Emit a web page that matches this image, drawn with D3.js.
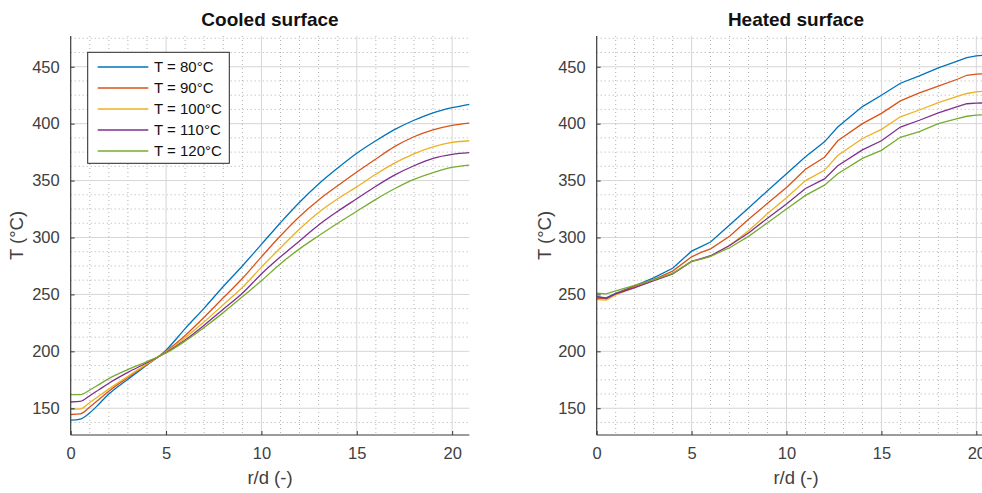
<!DOCTYPE html>
<html>
<head>
<meta charset="utf-8">
<script src="https://cdn.jsdelivr.net/npm/d3@7"></script>
<style>
  html, body { margin: 0; padding: 0; background: #fff; overflow: hidden; }
  svg { display: block; }
  text { font-family: "Liberation Sans", Arial, Helvetica, sans-serif; }
</style>
</head>
<body>
<svg id="fig" width="982" height="493"></svg>
<script>
// Radial temperature profiles along the surface, r/d on x, T in °C on y
const seriesNames = ["T = 80°C", "T = 90°C", "T = 100°C", "T = 110°C", "T = 120°C"];
const seriesColors = ["#0072BD", "#D95319", "#EDB120", "#7E2F8E", "#77AC30"];

// Cooled surface
const cooledR = [0, 0.5, 1, 1.5, 2, 3, 4, 5, 6, 7, 8, 9, 10, 11, 12, 13, 14, 15, 16, 17, 18, 19, 20, 20.9];
const cooled80  = [139.5, 140.5, 146, 154, 162.5, 175.5, 188, 201, 220, 238, 257, 275, 294, 313, 331, 347, 361, 374, 385, 395, 403, 409.5, 414, 417];
const cooled90  = [144.5, 145, 151, 158, 165, 177, 188.5, 200, 214, 230, 247, 264, 283, 301.5, 318.5, 333, 345.5, 357.5, 369, 380, 388.5, 394.5, 398.5, 400.5];
const cooled100 = [149, 149.5, 155, 161, 167, 178, 189, 199.5, 212, 226, 241, 256, 274, 291, 307.5, 322, 334, 344.5, 355.5, 365.5, 373.5, 379.5, 383.5, 385];
const cooled110 = [155.5, 156, 161, 166.5, 172, 181.5, 190, 199, 210, 223, 237, 251, 268, 283, 297, 311, 323, 334, 345, 355, 363, 369.5, 373, 374.5];
const cooled120 = [162, 162, 166, 171, 176, 184, 191, 198.5, 209, 221, 234, 248, 262, 277, 290, 301.5, 312.5, 323, 333.5, 343, 351, 357, 361.5, 363.5];

// Heated surface
const heatedR = [0, 0.5, 1, 2, 3, 4, 5, 5.5, 6, 7, 8, 9, 10, 11, 12, 12.7, 14, 15, 16, 17, 18, 19, 19.5, 20, 21];
const heated80  = [248, 247, 251, 257.5, 264.5, 273, 288, 292, 296, 311, 326, 341, 356, 371, 384, 397, 415, 425, 435.5, 442, 449, 455, 458, 459.5, 461];
const heated90  = [246.5, 246, 250.5, 257, 263, 270.5, 283, 287, 290, 301, 316, 330, 344, 360, 370.5, 385, 400, 409, 420, 427, 433, 439, 442.5, 443.5, 444];
const heated100 = [245.5, 245, 249.5, 256, 262, 268, 279, 281, 283.5, 293, 306, 321, 335, 350, 359, 372, 387, 395, 406, 412, 418.5, 424, 426.5, 428, 429];
const heated110 = [248, 246.5, 250.5, 256, 262, 268, 279, 281.5, 284, 293, 304, 317, 329.5, 343, 351.5, 363, 377, 385, 397, 403, 409.5, 415, 417.5, 418, 418.5];
const heated120 = [251, 250.5, 253, 258, 263, 268.5, 279, 281, 283.5, 291, 301, 313, 325, 337, 346, 356, 369.5, 376.5, 388, 393, 400, 404.5, 406.5, 407.5, 408];

const xTicks = [0, 5, 10, 15, 20];
const yTicks = [150, 200, 250, 300, 350, 400, 450];
const yRange = [126.5, 477];

const panels = [
  { title: "Cooled surface", left: 70.7, xMax: 20.9, r: cooledR,
    ys: [cooled80, cooled90, cooled100, cooled110, cooled120], curve: d3.curveMonotoneX,
    yLabelX: 23, legend: true },
  { title: "Heated surface", left: 596.7, xMax: 21, r: heatedR,
    ys: [heated80, heated90, heated100, heated110, heated120], curve: d3.curveLinear,
    yLabelX: 551, legend: false }
];

const svg = d3.select("#fig");
const plotTop = 36, plotBottom = 435, plotW = 398.6;
const axisColor = "#3a3a3a", textColor = "#404040";

panels.forEach(p => {
  const x = d3.scaleLinear().domain([0, p.xMax]).range([p.left, p.left + plotW]);
  const y = d3.scaleLinear().domain(yRange).range([plotBottom, plotTop]);
  const g = svg.append("g");

  // minor grid (dotted)
  const xMinor = d3.range(1, Math.floor(p.xMax) + 1).filter(v => v % 5 !== 0);
  const yMinor = d3.range(137.5, yRange[1], 12.5).filter(v => v % 50 !== 0);
  g.append("g").selectAll("line").data(xMinor).join("line")
    .attr("x1", d => x(d)).attr("x2", d => x(d)).attr("y1", plotTop).attr("y2", plotBottom)
    .attr("stroke", "#a8a8a8").attr("stroke-width", 0.9).attr("stroke-dasharray", "1,3");
  g.append("g").selectAll("line").data(yMinor).join("line")
    .attr("x1", p.left).attr("x2", p.left + plotW).attr("y1", d => y(d)).attr("y2", d => y(d))
    .attr("stroke", "#a8a8a8").attr("stroke-width", 0.9).attr("stroke-dasharray", "1,3");

  // major grid
  g.append("g").selectAll("line").data(xTicks.filter(v => v > 0)).join("line")
    .attr("x1", d => x(d)).attr("x2", d => x(d)).attr("y1", plotTop).attr("y2", plotBottom)
    .attr("stroke", "#d6d6d6").attr("stroke-width", 1);
  g.append("g").selectAll("line").data(yTicks).join("line")
    .attr("x1", p.left).attr("x2", p.left + plotW).attr("y1", d => y(d)).attr("y2", d => y(d))
    .attr("stroke", "#d6d6d6").attr("stroke-width", 1);

  // data lines
  const line = d3.line().x(d => x(d[0])).y(d => y(d[1])).curve(p.curve);
  p.ys.forEach((vals, i) => {
    g.append("path")
      .datum(p.r.map((rv, k) => [rv, vals[k]]))
      .attr("d", line)
      .attr("fill", "none")
      .attr("stroke", seriesColors[i])
      .attr("stroke-width", 1.3);
  });

  // axes (inward ticks)
  const xAxis = d3.axisBottom(x).tickValues(xTicks).tickSizeInner(-4).tickSizeOuter(0).tickPadding(12);
  const yAxis = d3.axisLeft(y).tickValues(yTicks).tickSizeInner(-4).tickSizeOuter(0).tickPadding(11);
  const gx = g.append("g").attr("transform", `translate(0,${plotBottom})`).call(xAxis);
  const gy = g.append("g").attr("transform", `translate(${p.left},0)`).call(yAxis);
  [gx, gy].forEach(a => {
    a.select(".domain").attr("stroke", axisColor).attr("stroke-width", 1.2);
    a.selectAll(".tick line").attr("stroke", axisColor);
    a.selectAll(".tick text").attr("fill", textColor).style("font-size", "16.5px")
      .style("font-family", "'Liberation Sans', Arial, sans-serif");
  });
  gx.select(".domain").attr("d", `M${p.left},0H${p.left + plotW}`);
  gy.select(".domain").attr("d", `M0,${plotBottom}V${plotTop}`);

  // title and axis labels
  g.append("text").attr("x", p.left + plotW / 2).attr("y", 26)
    .attr("text-anchor", "middle").attr("fill", "#111")
    .style("font-size", "19px").style("font-weight", "bold").text(p.title);
  g.append("text").attr("x", p.left + plotW / 2).attr("y", 484)
    .attr("text-anchor", "middle").attr("fill", textColor)
    .style("font-size", "18.5px").text("r/d (-)");
  g.append("text")
    .attr("transform", `translate(${p.yLabelX},${(plotTop + plotBottom) / 2}) rotate(-90)`)
    .attr("text-anchor", "middle").attr("fill", textColor)
    .style("font-size", "18.5px").text("T (°C)");

  // legend
  if (p.legend) {
    const lg = g.append("g");
    lg.append("rect").attr("x", 87.7).attr("y", 52.3).attr("width", 141.6).attr("height", 111)
      .attr("fill", "#fff").attr("stroke", "#262626").attr("stroke-width", 1);
    seriesNames.forEach((name, i) => {
      const cy = 67 + i * 21;
      lg.append("line").attr("x1", 97.7).attr("x2", 148.3).attr("y1", cy).attr("y2", cy)
        .attr("stroke", seriesColors[i]).attr("stroke-width", 1.3);
      lg.append("text").attr("x", 154).attr("y", cy).attr("dy", "0.35em")
        .attr("fill", "#111").style("font-size", "15px").text(name);
    });
  }
});
</script>
</body>
</html>
